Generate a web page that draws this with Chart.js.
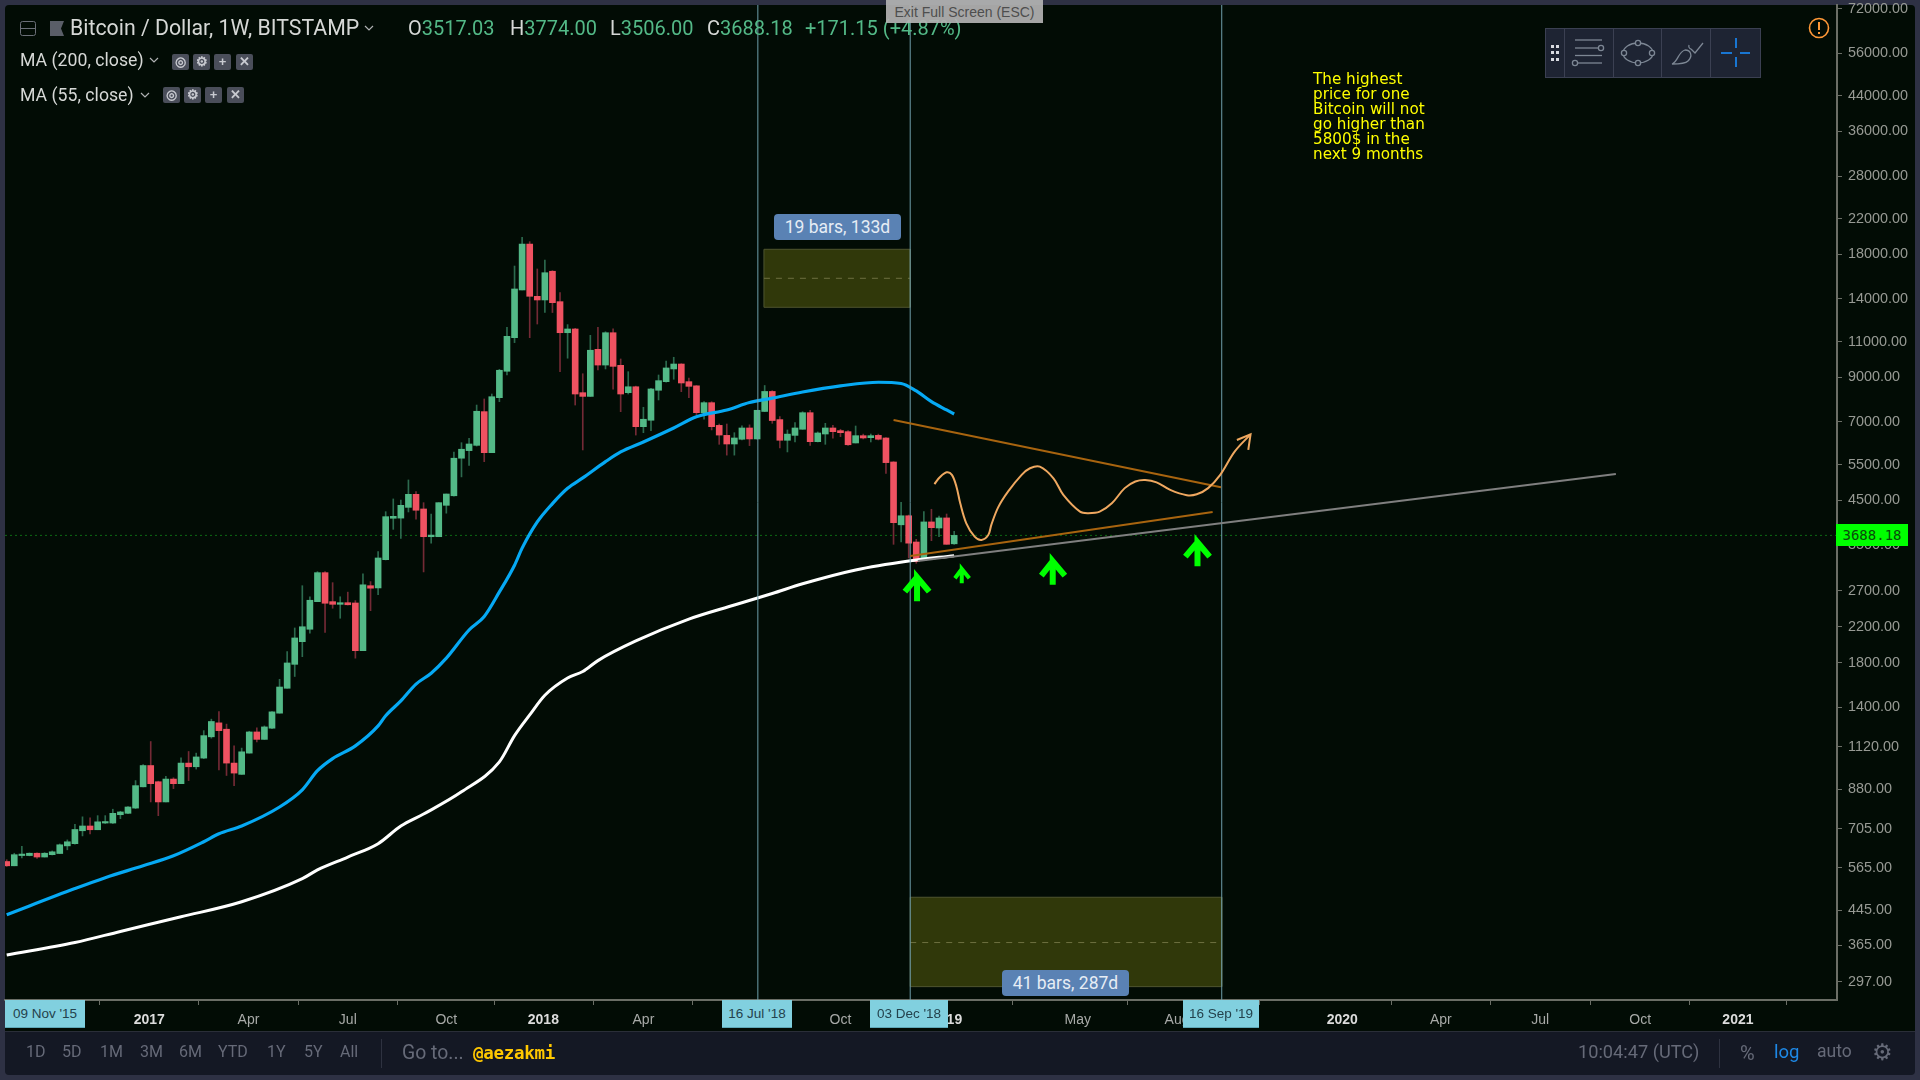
<!DOCTYPE html>
<html><head><meta charset="utf-8">
<script src="https://cdn.jsdelivr.net/npm/chart.js@4"></script>
<style>
html,body{margin:0;padding:0;width:1920px;height:1080px;overflow:hidden;background:#2e3144;font-family:"Liberation Sans",Arial,sans-serif}
#stage{position:absolute;left:5px;top:5px;width:1910px;height:1026px;background:#020c05;border-radius:4px 4px 0 0}
#foot{position:absolute;left:5px;top:1031px;width:1910px;height:44px;background:#141824;border-top:1px solid #2a2e38;box-sizing:border-box;border-radius:0 0 4px 4px}
canvas{position:absolute;left:0;top:0}
.t{position:absolute;white-space:pre;line-height:1}
.ui{font-family:Roboto,"Liberation Sans",sans-serif}
.tag{position:absolute;top:1000px;height:28px;background:#81d0df;color:#24424c;font:13.5px "Liberation Sans";text-align:center;line-height:28px;border-bottom:1px solid #5fa8b8;box-sizing:border-box}
.bars{position:absolute;background:#5a82b4;color:#e6edf5;border-radius:4px;font:17.5px Roboto,sans-serif;text-align:center}
.ic{position:absolute;width:17px;height:16px;background:#4a4e5a;color:#c8cad0;font:bold 13px "Liberation Sans";text-align:center;line-height:16px;border-radius:2px}
.f{position:absolute;top:1044px;color:#666a78;font:16px Roboto,sans-serif;line-height:1;white-space:pre}
</style></head><body>
<div id="stage"></div><div id="foot"></div>
<canvas id="c" width="1920" height="1080" style="width:1920px;height:1080px"></canvas>

<svg style="position:absolute;left:20px;top:21px" width="46" height="15"><rect x=".5" y=".5" width="15" height="14" rx="2" fill="none" stroke="#6b6f78"/><line x1="1" y1="7.5" x2="15" y2="7.5" stroke="#6b6f78"/><path d="M30 0H44L41 7.5L44 15H30Z" fill="#5a5e68"/></svg>
<div class="t ui" style="left:70px;top:17px;font-size:21.3px;color:#d6d8d6">Bitcoin / Dollar, 1W, BITSTAMP</div>
<svg style="position:absolute;left:364px;top:25px" width="11" height="8"><path d="M1 1L5 5L9 1" fill="none" stroke="#b0b2b4" stroke-width="1.2"/></svg>
<div class="t ui" style="left:408px;top:18px;font-size:20px;color:#d6d8d6">O<span style="color:#53b987">3517.03</span></div>
<div class="t ui" style="left:510px;top:18px;font-size:20px;color:#d6d8d6">H<span style="color:#53b987">3774.00</span></div>
<div class="t ui" style="left:610px;top:18px;font-size:20px;color:#d6d8d6">L<span style="color:#53b987">3506.00</span></div>
<div class="t ui" style="left:707px;top:18px;font-size:20px;color:#d6d8d6">C<span style="color:#53b987">3688.18</span></div>
<div class="t ui" style="left:805px;top:18px;font-size:20px;color:#53b987">+171.15 (+4.87%)</div>
<div class="t ui" style="left:20px;top:52px;font-size:17.7px;color:#d6d8d6">MA (200, close)</div>
<svg style="position:absolute;left:149px;top:57px" width="11" height="8"><path d="M1 1L5 5L9 1" fill="none" stroke="#b0b2b4" stroke-width="1.2"/></svg>
<div class="ic" style="left:172px;top:54px">&#9678;</div><div class="ic" style="left:193px;top:54px">&#9881;</div><div class="ic" style="left:214px;top:54px">+</div><div class="ic" style="left:236px;top:54px">&#10005;</div>
<div class="t ui" style="left:20px;top:87px;font-size:17.7px;color:#d6d8d6">MA (55, close)</div>
<svg style="position:absolute;left:140px;top:92px" width="11" height="8"><path d="M1 1L5 5L9 1" fill="none" stroke="#b0b2b4" stroke-width="1.2"/></svg>
<div class="ic" style="left:163px;top:87px">&#9678;</div><div class="ic" style="left:184px;top:87px">&#9881;</div><div class="ic" style="left:205px;top:87px">+</div><div class="ic" style="left:227px;top:87px">&#10005;</div>

<div class="t" style="left:886px;top:0;width:157px;height:23px;background:#b4b4b4;color:#555;font:14px 'Liberation Sans';line-height:24px;text-align:center;opacity:.92">Exit Full Screen (ESC)</div>

<svg style="position:absolute;left:1545px;top:28px" width="216" height="50">
<rect x=".5" y=".5" width="215" height="49" fill="#1e2433" stroke="#3b4052"/>
<g stroke="#3b4052"><line x1="19.5" y1="1" x2="19.5" y2="49"/><line x1="68.5" y1="1" x2="68.5" y2="49"/><line x1="116.5" y1="1" x2="116.5" y2="49"/><line x1="165.5" y1="1" x2="165.5" y2="49"/></g>
<g fill="#d8dae0"><rect x="6" y="17" width="3" height="3"/><rect x="11" y="17" width="3" height="3"/><rect x="6" y="23" width="3" height="3"/><rect x="11" y="23" width="3" height="3"/><rect x="6" y="30" width="3" height="3"/><rect x="11" y="30" width="3" height="3"/></g>
<g fill="none" stroke="#7d8794" stroke-width="1.3">
<line x1="30" y1="12" x2="57" y2="12"/><line x1="30" y1="20" x2="53" y2="20"/><circle cx="56" cy="20" r="2.6"/><line x1="30" y1="27.5" x2="57" y2="27.5"/><line x1="33" y1="35" x2="57" y2="35"/><circle cx="30" cy="35" r="2.6"/>
<ellipse cx="93" cy="25" rx="15" ry="10"/><circle cx="93" cy="15" r="2.6" fill="#1e2433"/><circle cx="93" cy="35" r="2.6" fill="#1e2433"/><circle cx="79" cy="25" r="2.6" fill="#1e2433"/><circle cx="107" cy="25" r="2.6" fill="#1e2433"/>
<path d="M127 36C133 34 133 24 140 22C146 22 148 28 143 33C140 36 132 36 127 36ZM146 21L150 25L158 15M144 17C143 20 146 21 146 21"/>
</g>
<g stroke="#1976d2" stroke-width="2"><line x1="191" y1="10" x2="191" y2="20"/><line x1="191" y1="29" x2="191" y2="39"/><line x1="176" y1="25" x2="187" y2="25"/><line x1="195" y1="25" x2="205" y2="25"/></g>
</svg>
<svg style="position:absolute;left:1808px;top:17px" width="22" height="22"><circle cx="11" cy="11" r="9.5" fill="none" stroke="#ff9838" stroke-width="1.6"/><line x1="11" y1="5" x2="11" y2="13" stroke="#ff9838" stroke-width="2"/><rect x="10" y="15" width="2" height="2" fill="#ff9838"/></svg>

<div class="t" style="left:1313px;top:72px;font:15.2px/15px 'DejaVu Sans';color:#ffff00">The highest
price for one
Bitcoin will not
go higher than
5800$ in the
next 9 months</div>

<div class="bars" style="left:774px;top:214px;width:127px;height:26px;line-height:26px">19 bars, 133d</div>
<div class="bars" style="left:1002px;top:970px;width:127px;height:26px;line-height:26px">41 bars, 287d</div>

<div class="tag" style="left:5px;width:80px">09 Nov '15</div>
<div class="tag" style="left:722px;width:70px">16 Jul '18</div>
<div class="tag" style="left:870px;width:78px">03 Dec '18</div>
<div class="tag" style="left:1183px;width:76px">16 Sep '19</div>

<div class="t" style="left:1836px;top:524px;width:72px;height:22px;background:#00ff00;color:#0a4a0a;font:14px/22px 'DejaVu Sans Mono';text-align:center">3688.18</div>

<div class="f" style="left:26px">1D</div><div class="f" style="left:62px">5D</div><div class="f" style="left:100px">1M</div><div class="f" style="left:140px">3M</div><div class="f" style="left:179px">6M</div><div class="f" style="left:218px">YTD</div><div class="f" style="left:267px">1Y</div><div class="f" style="left:304px">5Y</div><div class="f" style="left:340px">All</div>
<div style="position:absolute;left:381px;top:1039px;width:1px;height:29px;background:#2e3240"></div>
<div class="f" style="left:402px;font-size:19.4px;top:1043px">Go to...</div>
<div class="t" style="left:473px;top:1043px;font:bold 17.5px 'DejaVu Sans Mono';color:#ffc800;letter-spacing:-.3px">@aezakmi</div>
<div class="f" style="left:1578px;font-size:18.2px;top:1043px">10:04:47 (UTC)</div>
<div style="position:absolute;left:1719px;top:1039px;width:1px;height:29px;background:#2e3240"></div>
<div class="f" style="left:1740px;font-size:20px;top:1043px">%</div><div class="f" style="left:1774px;color:#1e88e5;font-size:18.5px;top:1043px">log</div><div class="f" style="left:1817px;font-size:17.5px;top:1043px">auto</div>
<div class="f" style="left:1872px;font-size:23px;top:1041px">&#9881;</div>

<script>
// Weekly candles (bar index 0 = first visible bar)
const opens=[586,572,606,606,614,601,609,613,640,648,697,716,701,728,728,763,769,792,893,1007,919,820,933,909,1021,1000,1050,1184,1281,1236,1021,958,1080,1217,1167,1243,1353,1557,1782,2025,2172,2538,2989,2538,2500,2523,2519,1925,2777,2742,3216,4062,4066,4320,4650,4281,3661,3661,4370,4612,5700,5950,6129,7413,5882,8020,9308,11250,14724,19075,14208,13917,16365,13785,11570,11816,8250,8078,10535,9641,11570,9625,8250,8530,6809,7061,8363,8778,9430,9697,8778,8575,7369,7797,6860,6484,6176,6343,6760,6354,7420,8307,7087,6307,6484,6711,7369,6257,6534,6760,6659,6621,6212,6473,6400,6484,6389,5580,3915,4120,3553,3211,3979,3845,4070,3517.03];
const highs=[592,614,638,615,615,616,622,647,662,723,754,750,759,759,787,778,799,925,1012,1153,922,947,940,1052,1090,1080,1226,1308,1365,1272,1125,1111,1222,1245,1259,1365,1638,1914,2188,2777,2609,3006,3006,2825,2609,2678,2553,2970,2842,3364,4216,4530,4504,5042,4720,4436,4161,4436,4658,5904,6222,6381,7694,7962,8188,9412,11929,16854,19818,19335,16575,17439,16422,14500,12110,11860,9180,11400,11929,11635,11830,9977,9287,8560,7597,8457,9115,9865,10073,9714,8963,8590,7842,7842,6913,6913,6583,6840,6880,7470,8590,8344,7210,6685,6965,7411,7470,6611,6940,6860,6711,6659,6836,6530,6534,6530,6400,5590,4447,4137,3608,4216,4274,4115,4161,3774];
const lows=[570,572,598,605,596,601,608,613,626,646,677,685,701,726,726,746,768,790,893,820,759,820,884,909,925,987,1047,1175,983,952,899,958,1080,1151,1167,1240,1353,1557,1664,1861,2124,2538,2135,2445,2311,2490,1845,1925,2412,2640,3211,3816,3628,4209,4040,3001,3530,3661,4180,4600,5130,5474,6104,5590,5882,7842,9115,10940,14724,11250,12151,12965,12965,9287,10020,7694,5972,8078,9377,9430,8410,7411,8188,6495,6583,6659,7917,8748,8898,8297,8020,7272,7101,6685,6165,5800,5800,6318,6120,6343,7411,6940,6040,5905,6247,6711,6129,6247,6165,6378,6436,6129,6212,6354,6247,6318,5235,3507,3553,3247,3151,3211,3580,3661,3507,3506];
const closes=[572,609,611,614,601,614,619,644,655,702,716,701,733,733,769,775,797,899,1007,909,820,933,909,1021,1000,1057,1192,1291,1226,1021,965,1088,1217,1167,1252,1363,1568,1796,2068,2203,2558,2989,2515,2500,2523,2494,1925,2791,2738,3247,4099,4107,4370,4650,4250,3661,3695,4436,4658,5700,5996,6176,7428,5882,8064,9361,11338,14807,19075,14208,13917,16230,13705,11570,11816,8188,8078,10480,9641,11570,9570,8188,8530,6809,7101,8424,8828,9484,9697,8713,8550,7369,7797,6809,6495,6176,6389,6760,6354,7470,8307,7050,6307,6530,6760,7369,6257,6572,6760,6621,6583,6150,6473,6389,6473,6343,5560,3963,4120,3530,3180,3979,3852,4070,3507,3688.18];
const barIndex=opens.map((_,i)=>i);

// Moving averages, read at selected bars
const ma55X=[0,9,13,18,22,26,28,31,36,39,41,43,46,49,50,52,54,56,58,61,63,65,67,68,70,72,74,76,79,81,84,88,91,95,98,101,105,110,115,118,120,122,124,125];
const ma55Y=[434,503,535,572,605,655,685,716,797,878,978,1047,1125,1259,1333,1450,1594,1695,1845,2163,2334,2681,3118,3432,3979,4413,4812,5100,5590,5905,6247,6760,7200,7483,7802,8000,8283,8570,8750,8690,8330,7842,7483,7314];
const ma200X=[0,9,15,23,31,39,41,45,49,52,55,60,65,67,69,71,74,76,78,83,90,96,101,105,112,119,125];
const ma200Y=[346,371,395,429,467,532,559,601,648,716,766,868,1028,1192,1340,1497,1650,1711,1820,2033,2300,2490,2657,2807,3035,3192,3290];

// Drawings
const lastPrice=[3688.18,3688.18];
const upperTrendX=[117,160.2], upperTrendY=[7073,4838];
const lowerTrendX=[119.2,159.1], lowerTrendY=[3282,4209];
const greyTrendX=[120.2,212.3], greyTrendY=[3193,5214];
const pathX=[122.4,123.1,124,124.7,125.3,125.8,126.6,127.7,128.6,129.5,129.9,130.8,132.1,133.9,135,136.3,138.1,139.4,141.6,142.7,144.2,145.8,147.5,148.9,150.2,151.7,153.5,155.7,157,158.5,160.1,162,164.1];
const pathY=[4928,5119,5266,5190,4855,4420,3949,3661,3594,3695,3913,4320,4720,5190,5386,5434,5090,4635,4216,4180,4216,4420,4815,4999,5042,4975,4766,4625,4650,4815,5190,5915,6523];
const pathHeadX=[162.3,164.1,163.8], pathHeadY=[6318,6523,5972];
const date1=99.1, date2=119.2, date3=160.3;
const box1X=[99.9,119.2], box1Top=18523, box1Bottom=13354, box1Mid=15728;
const box2X=[119.2,160.3], box2Top=479, box2Bottom=289.3, box2Mid=371;
const arrow1X=[118.5,120.1,121.7,120.1,120.1], arrow1Y=[2685,2913,2685,2913,2543];
const arrow2X=[125.1,126,127,126,126], arrow2Y=[2897,3052,2897,3052,2816];
const arrow3X=[136.5,138,139.6,138,138], arrow3Y=[2939,3188,2939,3188,2791];
const arrow4X=[155.5,157.1,158.7,157.1,157.1], arrow4Y=[3271,3547,3271,3547,3098];

// Axis ticks
const yTickValues=[72000,56000,44000,36000,28000,22000,18000,14000,11000,9000,7000,5500,4500,3500,2700,2200,1800,1400,1120,880,705,565,445,365,297];
const xTickValues=[18.8,31.9,45,58,70.8,84,97,110,124,141.3,154.4,176.2,189.2,202.3,215.5,228.4];
const xTickLabels=['2017','Apr','Jul','Oct','2018','Apr','Jul','Oct','2019','May','Aug','2020','Apr','Jul','Oct','2021'];

const xMin=-0.224,xMax=241.47,yMin=268.3,yMax=73477;
const pts=(xs,ys)=>xs.map((x,i)=>({x,y:ys[i]}));
const GREEN='#53b987',RED='#ef5261',GW='#2c6a4e',RW='#732a35';
const line=(data,color,width,order,extra)=>Object.assign({type:'line',data,borderColor:color,backgroundColor:'transparent',borderWidth:width,pointRadius:0,order,tension:0,fill:false},extra||{});
const vline=x=>[{x,y:yMin},{x,y:yMax}];
const rect=(xs,t,b)=>[{x:xs[0],y:t},{x:xs[1],y:t},{x:xs[1],y:b},{x:xs[0],y:b},{x:xs[0],y:t}];
const up=barIndex.map(i=>closes[i]>=opens[i]);
const arrow=(xs,ys,w)=>line(pts(xs,ys),'#00ff00',w,1,{borderJoinStyle:'miter',borderCapStyle:'butt'});
const noPad=s=>{s.paddingTop=0;s.paddingBottom=0;s.paddingLeft=0;s.paddingRight=0;};

new Chart(document.getElementById('c'),{
 type:'bar',
 data:{datasets:[
  line([{x:box1X[0],y:box1Top},{x:box1X[1],y:box1Top}],'transparent',0,20,{fill:{value:box1Bottom},backgroundColor:'#30380a'}),
  line([{x:box2X[0],y:box2Top},{x:box2X[1],y:box2Top}],'transparent',0,20,{fill:{value:box2Bottom},backgroundColor:'#30380a'}),
  line(rect(box1X,box1Top,box1Bottom),'#4f5530',1,19),
  line(rect(box2X,box2Top,box2Bottom),'#4f5530',1,19),
  line([{x:box1X[0],y:box1Mid},{x:box1X[1],y:box1Mid}],'#6d7040',1,18,{borderDash:[6,6]}),
  line([{x:box2X[0],y:box2Mid},{x:box2X[1],y:box2Mid}],'#6d7040',1,18,{borderDash:[6,6]}),
  line(pts([xMin,xMax],lastPrice),'#0d6a14',1,17,{borderDash:[2,3]}),
  {type:'bar',data:barIndex.map(i=>({x:i,y:[lows[i],highs[i]]})),backgroundColor:barIndex.map(i=>up[i]?GW:RW),barThickness:1,grouped:false,order:11},
  {type:'bar',data:barIndex.map(i=>({x:i,y:[Math.min(opens[i],closes[i]),Math.max(opens[i],closes[i])]})),backgroundColor:barIndex.map(i=>up[i]?GREEN:RED),barThickness:6,minBarLength:1.5,grouped:false,order:10},
  line(pts(ma200X,ma200Y),'#ffffff',3,9,{cubicInterpolationMode:'monotone'}),
  line(pts(ma55X,ma55Y),'#06a9f4',3.2,8,{cubicInterpolationMode:'monotone'}),
  line(vline(date1),'#6f9fab',1,7),
  line(vline(date2),'#6f9fab',1,7),
  line(vline(date3),'#6f9fab',1,7),
  line(pts(greyTrendX,greyTrendY),'#7f7f7f',2,6),
  line(pts(upperTrendX,upperTrendY),'#a8640f',2,5),
  line(pts(lowerTrendX,lowerTrendY),'#a8640f',2,5),
  line(pts(pathX,pathY),'#efa860',2,4,{tension:0.35}),
  line(pts(pathHeadX,pathHeadY),'#efa860',2,4),
  arrow(arrow1X,arrow1Y,6),arrow(arrow2X,arrow2Y,4),arrow(arrow3X,arrow3Y,6),arrow(arrow4X,arrow4Y,6)
 ]},
 options:{
  responsive:false,animation:false,devicePixelRatio:1,
  events:[],
  layout:{padding:{left:5,top:5,right:0,bottom:0}},
  plugins:{legend:{display:false},tooltip:{enabled:false},title:{display:false}},
  scales:{
   x:{type:'linear',min:xMin,max:xMax,offset:false,
    border:{color:'#6b6e66',width:2},
    grid:{drawOnChartArea:false,drawTicks:true,tickLength:5,tickColor:'#6b6e66'},
    afterFit:s=>{s.height=80;noPad(s);},
    afterBuildTicks:s=>{s.ticks=xTickValues.map(v=>({value:v}));},
    ticks:{autoSkip:false,maxRotation:0,padding:7,
     callback:v=>xTickLabels[xTickValues.indexOf(v)],
     color:c=>/^20/.test(xTickLabels[c.index])?'#dcdcdc':'#a8aaa8',
     font:c=>({family:'"Liberation Sans"',size:14,weight:/^20/.test(xTickLabels[c.index])?'bold':'normal'})}},
   y:{type:'logarithmic',position:'right',min:yMin,max:yMax,
    border:{color:'#6b6e66',width:2},
    grid:{drawOnChartArea:false,drawTicks:true,tickLength:5,tickColor:'#6b6e66'},
    afterFit:s=>{s.width=83;noPad(s);},
    afterBuildTicks:s=>{s.ticks=yTickValues.map(v=>({value:v}));},
    ticks:{autoSkip:false,padding:6,crossAlign:'near',color:'#979a94',font:{family:'"Liberation Sans"',size:14.4},
     callback:v=>Number(v).toFixed(2)}}
  }
 }
});
</script>
</body></html>
